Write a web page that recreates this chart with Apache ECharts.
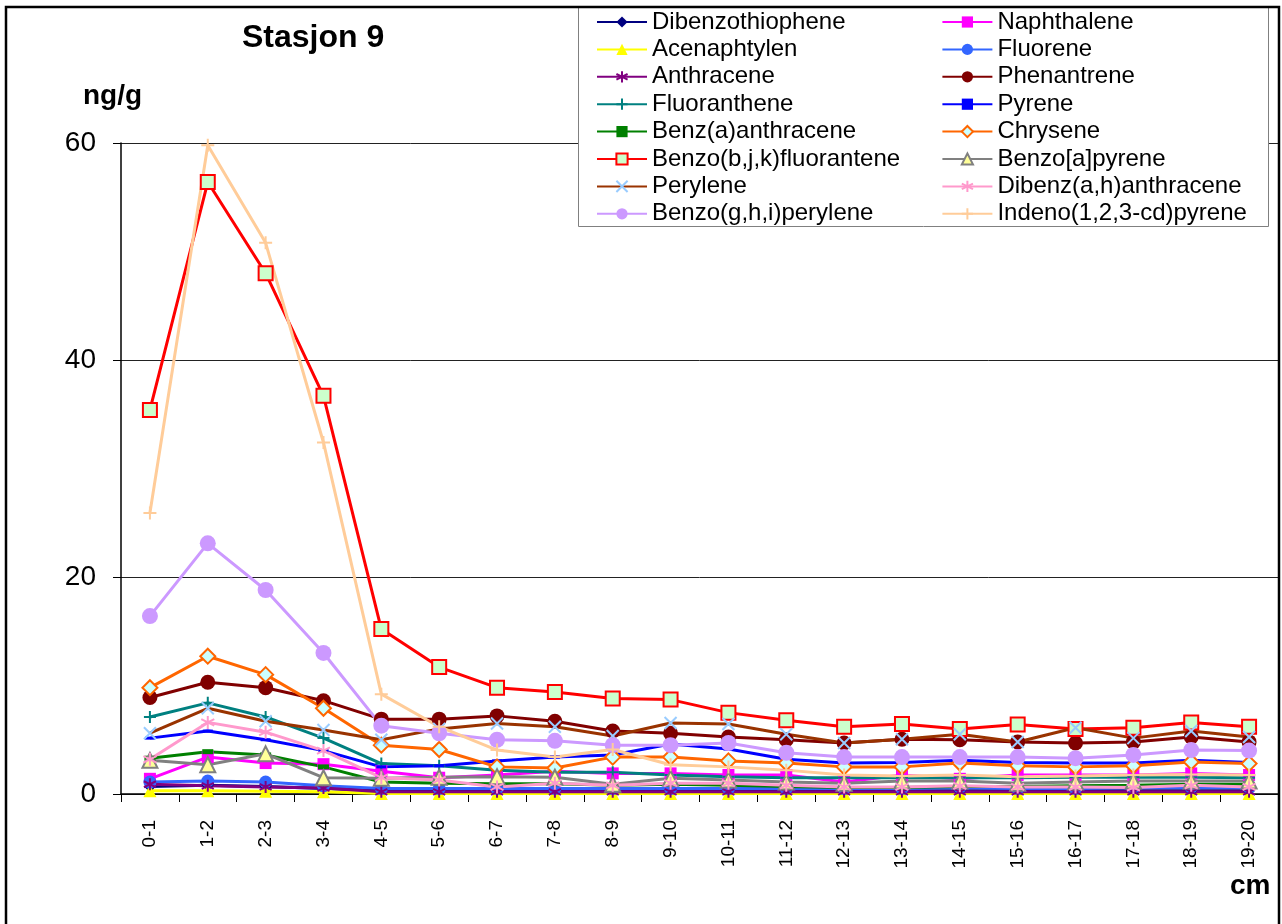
<!DOCTYPE html>
<html>
<head>
<meta charset="utf-8">
<script src="https://cdn.jsdelivr.net/npm/echarts@6/dist/echarts.min.js"></script>
<style>
  html, body { margin: 0; padding: 0; background: #fff; }
  #chart { width: 1282px; height: 924px; }
</style>
</head>
<body>
<div id="chart"></div>
<script>
// Depth intervals (cm)
const depths = ['0-1','1-2','2-3','3-4','4-5','5-6','6-7','7-8','8-9','9-10',
  '10-11','11-12','12-13','13-14','14-15','15-16','16-17','17-18','18-19','19-20'];

// Concentrations, ng/g
const dibenzothiophene = [0.7,0.8,0.7,0.5,0.3,0.3,0.3,0.3,0.3,0.3,0.3,0.3,0.3,0.3,0.3,0.3,0.3,0.3,0.3,0.3];
const naphthalene      = [1.4,3.4,2.85,2.75,2.1,1.5,1.75,2.1,1.9,1.9,1.75,1.75,1.1,1.75,1.4,1.75,1.75,1.75,1.9,1.75];
const acenaphtylen     = [0.3,0.3,0.25,0.2,0.05,0.05,0.05,0.05,0.05,0.05,0.05,0.05,0.05,0.05,0.05,0.05,0.05,0.05,0.05,0.05];
const fluorene         = [1.1,1.2,1.1,0.75,0.5,0.5,0.5,0.5,0.5,0.5,0.5,0.5,0.5,0.5,0.6,0.5,0.5,0.6,0.6,0.6];
const anthracene       = [0.9,0.75,0.65,0.55,0.2,0.2,0.2,0.2,0.2,0.2,0.2,0.2,0.2,0.2,0.2,0.2,0.2,0.2,0.2,0.2];
const phenantrene      = [8.9,10.3,9.8,8.6,6.9,6.9,7.2,6.7,5.8,5.6,5.25,5.0,4.7,5.05,5.0,4.8,4.7,4.8,5.25,4.8];
const fluoranthene     = [7.1,8.4,7.1,5.15,2.8,2.6,2.2,2.0,2.0,1.75,1.6,1.5,1.5,1.5,1.5,1.5,1.55,1.55,1.55,1.5];
const pyrene           = [5.15,5.8,5.0,4.0,2.5,2.6,3.05,3.4,3.6,4.6,4.15,3.2,2.85,2.9,3.1,2.9,2.85,2.85,3.1,2.9];
const benzAanthracene  = [3.3,3.9,3.6,2.5,1.1,1.0,0.95,0.95,0.8,0.9,0.8,0.7,0.6,0.6,0.7,0.7,0.75,0.8,0.9,0.9];
const chrysene         = [9.8,12.7,11.0,7.9,4.5,4.1,2.5,2.4,3.4,3.4,3.05,2.85,2.5,2.5,2.85,2.6,2.5,2.6,2.95,2.8];
const benzoBJKfluor    = [35.4,56.4,48.0,36.7,15.2,11.7,9.8,9.4,8.8,8.7,7.5,6.8,6.2,6.45,6.0,6.4,6.0,6.1,6.6,6.2];
const benzoApyrene     = [3.1,2.7,3.7,1.5,1.45,1.55,1.6,1.55,0.9,1.45,1.3,1.1,1.0,1.2,1.2,1.0,1.1,1.2,1.2,1.2];
const perylene         = [5.6,7.9,6.7,5.9,5.0,6.0,6.5,6.2,5.35,6.55,6.45,5.5,4.7,5.05,5.5,4.8,6.1,5.15,5.8,5.25];
const dibenzAHanthr    = [3.2,6.6,5.7,4.0,1.5,1.3,0.65,1.0,0.8,1.0,1.0,0.8,0.65,0.65,0.75,0.65,0.65,0.6,0.8,0.65];
const benzoGHIperylene = [16.4,23.1,18.8,13.0,6.3,5.6,5.0,4.9,4.5,4.5,4.7,3.8,3.4,3.4,3.4,3.4,3.3,3.6,4.05,4.0];
const indenoPyrene     = [25.9,59.8,50.8,32.4,9.2,6.2,4.05,3.4,4.1,2.7,2.5,2.2,1.75,1.65,1.75,1.6,1.65,1.75,1.8,1.75];

const yTicks = { min: 0, max: 60, interval: 20 };

const FONT = '"Liberation Sans", Arial, sans-serif';
const STAR = 'path://M5,0L5,10M0.7,2.5L9.3,7.5M0.7,7.5L9.3,2.5';
const CROSS = 'path://M0,0L10,10M10,0L0,10';
const PLUS = 'path://M5,0L5,10M0,5L10,5';

// name, data, line colour, symbol, size, fill, marker border colour
const defs = [
  ['Dibenzothiophene', dibenzothiophene, '#000080', 'diamond', 12, '#000080', null],
  ['Naphthalene', naphthalene, '#FF00FF', 'rect', 12, '#FF00FF', null],
  ['Acenaphtylen', acenaphtylen, '#FFFF00', 'triangle', 13, '#FFFF00', null],
  ['Fluorene', fluorene, '#3366FF', 'circle', 13, '#3366FF', null],
  ['Anthracene', anthracene, '#800080', STAR, 12, 'none', '#800080'],
  ['Phenantrene', phenantrene, '#800000', 'circle', 15, '#800000', null],
  ['Fluoranthene', fluoranthene, '#008080', PLUS, 12, 'none', '#008080'],
  ['Pyrene', pyrene, '#0000FF', 'rect', [10, 3], '#0000FF', null],
  ['Benz(a)anthracene', benzAanthracene, '#008000', 'rect', [11, 5], '#008000', null],
  ['Chrysene', chrysene, '#FF6600', 'diamond', 15, '#CCFFFF', '#FF6600'],
  ['Benzo(b,j,k)fluorantene', benzoBJKfluor, '#FF0000', 'rect', 14, '#CCFFCC', '#FF0000'],
  ['Benzo[a]pyrene', benzoApyrene, '#808080', 'triangle', 15, '#FFFF99', '#808080'],
  ['Perylene', perylene, '#993300', CROSS, 12, 'none', '#99CCFF'],
  ['Dibenz(a,h)anthracene', dibenzAHanthr, '#FF99CC', STAR, 13, 'none', '#FF99CC'],
  ['Benzo(g,h,i)perylene', benzoGHIperylene, '#CC99FF', 'circle', 16, '#CC99FF', null],
  ['Indeno(1,2,3-cd)pyrene', indenoPyrene, '#FFCC99', PLUS, 13, 'none', '#FFCC99']
];

const series = defs.map(([name, data, color, symbol, size, fill, border]) => ({
  name, type: 'line', data,
  symbol, symbolSize: size, showSymbol: true,
  lineStyle: { color, width: 3 },
  itemStyle: {
    color: fill === 'none' ? 'rgba(0,0,0,0)' : fill,
    borderColor: border || fill,
    borderWidth: border ? 2 : 0
  },
  emphasis: { disabled: true },
  animation: false
}));

// two-column legend: fixed text widths keep the columns aligned
const legendData = defs.map(([name], i) => ({
  name,
  textStyle: { width: i % 2 === 0 ? 286 : 260 }
}));

const chart = echarts.init(document.getElementById('chart'), null, { renderer: 'canvas' });
chart.setOption({
  backgroundColor: '#ffffff',
  animation: false,
  textStyle: { fontFamily: FONT },
  grid: { left: 121, top: 143, right: 4, bottom: 130, containLabel: false },
  xAxis: {
    type: 'category', data: depths, boundaryGap: true,
    axisLine: { lineStyle: { color: '#000', width: 1.5 } },
    axisTick: { show: true, interval: 0, length: 8, lineStyle: { color: '#000' } },
    axisLabel: { interval: 0, rotate: 90, margin: 26, fontSize: 19, color: '#000', fontFamily: FONT },
    splitLine: { show: false }
  },
  yAxis: {
    type: 'value', min: yTicks.min, max: yTicks.max, interval: yTicks.interval,
    axisLine: { show: true, lineStyle: { color: '#000', width: 1.5 } },
    axisTick: { show: true, length: 8, lineStyle: { color: '#000' } },
    axisLabel: { fontSize: 28, color: '#000', margin: 25, fontFamily: FONT },
    splitLine: { show: true, lineStyle: { color: '#222', width: 1 } }
  },
  legend: {
    data: legendData,
    orient: 'horizontal',
    left: 596, top: 10, width: 680,
    itemWidth: 50, itemHeight: 14, itemGap: 3.4,
    padding: 0,
    textStyle: { fontSize: 24, color: '#000', lineHeight: 22, fontFamily: FONT },
    selectedMode: false,
    z: 20
  },
  graphic: [
    { type: 'rect', z: 15, shape: { x: 578.5, y: 7.5, width: 690, height: 219 },
      style: { fill: '#fff', stroke: '#808080', lineWidth: 1 } },
    { type: 'rect', z: 30, silent: true, shape: { x: 6, y: 7, width: 1273, height: 940 },
      style: { fill: 'none', stroke: '#000', lineWidth: 2.5 } },
    { type: 'text', z: 30, left: 242, top: 22,
      style: { text: 'Stasjon 9', font: 'bold 32px ' + FONT, fill: '#000' } },
    { type: 'text', z: 30, left: 83, top: 82,
      style: { text: 'ng/g', font: 'bold 28px ' + FONT, fill: '#000' } },
    { type: 'text', z: 30, left: 1230, top: 872,
      style: { text: 'cm', font: 'bold 28px ' + FONT, fill: '#000' } }
  ],
  series
});
</script>
</body>
</html>
